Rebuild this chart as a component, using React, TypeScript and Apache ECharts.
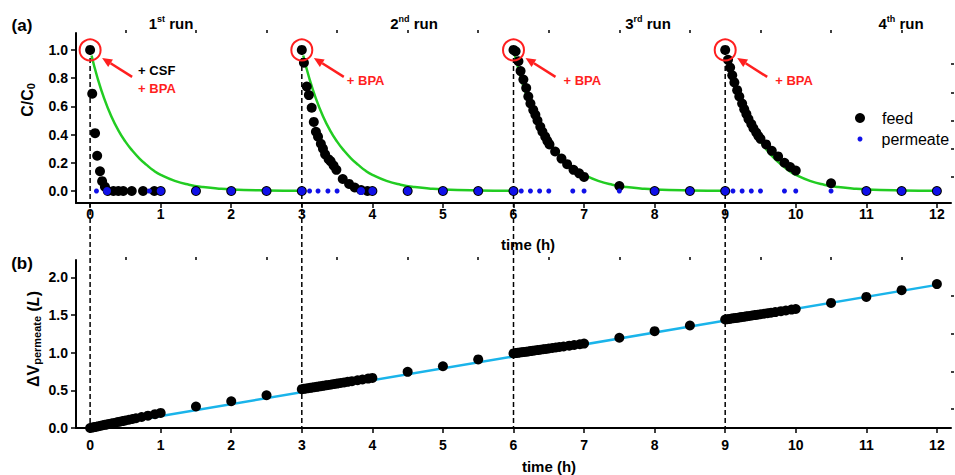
import React, { useEffect, useRef } from "react";
import * as echarts from "echarts";

// ---------- data ----------
const runStarts = [0, 3, 6, 9];
const peakValues = [1.0, 1.0, 1.0, 1.0];
const runNumber = ["1", "2", "3", "4"];
const runSuffix = ["st", "nd", "rd", "th"];

// (a) feed C/C0
const feedTime = [
  0, 0.03, 0.07, 0.1, 0.14, 0.17, 0.21, 0.25, 0.33, 0.4, 0.47, 0.59, 0.75, 0.91, 1.0, 1.5, 2.0, 2.5, 3.0,
  3.0, 3.03, 3.07, 3.1, 3.14, 3.17, 3.2, 3.23, 3.27, 3.3, 3.33, 3.38, 3.41, 3.45, 3.49, 3.58, 3.67, 3.75, 3.84, 3.93, 4.0, 4.5, 5.0, 5.5, 6.0,
  6.0, 6.03, 6.07, 6.1, 6.14, 6.18, 6.21, 6.24, 6.28, 6.31, 6.34, 6.38, 6.41, 6.45, 6.48, 6.51, 6.59, 6.68, 6.76, 6.85, 6.93, 7.0, 7.5, 8.0, 8.5, 9.0,
  9.0, 9.04, 9.07, 9.1, 9.13, 9.17, 9.2, 9.24, 9.27, 9.3, 9.33, 9.37, 9.4, 9.44, 9.47, 9.5, 9.58, 9.66, 9.75, 9.84, 9.92, 10.0, 10.5, 11.0, 11.5, 12.0,
];
const feedValue = [
  1.0, 0.69, 0.41, 0.25, 0.14, 0.07, 0.03, 0, 0, 0, 0, 0, 0, 0, 0, 0, 0, 0, 0,
  1.0, 0.91, 0.74, 0.68, 0.59, 0.49, 0.42, 0.385, 0.335, 0.3, 0.26, 0.225, 0.21, 0.18, 0.15, 0.085, 0.05, 0.025, 0.007, 0, 0, 0, 0, 0, 0,
  1.0, 0.99, 0.92, 0.85, 0.79, 0.73, 0.67, 0.62, 0.575, 0.54, 0.5, 0.455, 0.42, 0.385, 0.355, 0.33, 0.28, 0.23, 0.19, 0.15, 0.125, 0.1, 0.035, 0, 0, 0,
  1.0, 0.93, 0.875, 0.82, 0.77, 0.715, 0.67, 0.62, 0.58, 0.545, 0.51, 0.475, 0.445, 0.415, 0.39, 0.37, 0.33, 0.285, 0.245, 0.2, 0.17, 0.145, 0.055, 0, 0, 0,
];

// (a) permeate C/C0
const permeateTime = [
  0.09, 0.24, 0.84, 1.0, 1.5, 2.0, 2.5, 3.0,
  3.11, 3.23, 3.37, 3.5, 3.84, 4.0, 4.5, 5.0, 5.5, 6.0,
  6.11, 6.24, 6.37, 6.5, 6.84, 7.0, 7.5, 8.0, 8.5, 9.0,
  9.11, 9.24, 9.37, 9.5, 9.84, 10.0, 10.5, 11.0, 11.5, 12.0,
];
const permeateValue = [
  0, 0, 0, 0, 0, 0, 0, 0,
  0, 0, 0, 0, 0, 0, 0, 0, 0, 0,
  0, 0, 0, 0, 0, 0, 0, 0, 0, 0,
  0, 0, 0, 0, 0, 0, 0, 0, 0, 0,
];

// (a) green model curve, read after each BPA addition (time since addition, C/C0)
const fitOffset = [0.02, 0.1, 0.2, 0.3, 0.4, 0.5, 0.6, 0.7, 0.8, 0.9, 1.0, 1.2, 1.4, 1.6, 1.8, 2.0, 2.5, 3.0];
const fitValue = [0.96, 0.81, 0.655, 0.53, 0.43, 0.35, 0.285, 0.23, 0.185, 0.145, 0.115, 0.072, 0.045, 0.028, 0.018, 0.011, 0.004, 0.001];

// (b) cumulative permeate volume (L)
const dvTime = [
  0, 0.03, 0.06, 0.09, 0.12, 0.15, 0.18, 0.21, 0.24, 0.27, 0.3, 0.34, 0.38, 0.42, 0.46, 0.5, 0.55, 0.6, 0.65, 0.73, 0.82, 0.92, 1.0, 1.5, 2.0, 2.5,
  3.0, 3.03, 3.06, 3.09, 3.12, 3.15, 3.18, 3.21, 3.24, 3.27, 3.3, 3.34, 3.38, 3.42, 3.46, 3.5, 3.55, 3.6, 3.65, 3.71, 3.79, 3.86, 3.94, 4.0, 4.5, 5.0, 5.5,
  6.0, 6.03, 6.06, 6.09, 6.12, 6.15, 6.18, 6.21, 6.24, 6.27, 6.3, 6.34, 6.38, 6.42, 6.46, 6.5, 6.55, 6.6, 6.65, 6.71, 6.79, 6.86, 6.94, 7.0, 7.5, 8.0, 8.5,
  9.0, 9.03, 9.06, 9.09, 9.12, 9.15, 9.18, 9.21, 9.24, 9.27, 9.3, 9.34, 9.38, 9.42, 9.46, 9.5, 9.55, 9.6, 9.65, 9.71, 9.79, 9.86, 9.94, 10.0, 10.5, 11.0, 11.5, 12.0,
];
const dvValue = [
  0, 0.006, 0.012, 0.018, 0.024, 0.03, 0.036, 0.042, 0.048, 0.054, 0.06, 0.068, 0.076, 0.084, 0.092, 0.1, 0.11, 0.12, 0.13, 0.146, 0.164, 0.184, 0.2, 0.285, 0.355, 0.435,
  0.515, 0.52, 0.524, 0.528, 0.533, 0.537, 0.542, 0.546, 0.551, 0.555, 0.56, 0.566, 0.572, 0.578, 0.584, 0.59, 0.598, 0.605, 0.613, 0.622, 0.634, 0.644, 0.656, 0.665, 0.745, 0.82, 0.91,
  0.99, 0.994, 0.998, 1.002, 1.006, 1.01, 1.013, 1.017, 1.021, 1.025, 1.029, 1.034, 1.039, 1.045, 1.05, 1.055, 1.062, 1.068, 1.075, 1.082, 1.093, 1.102, 1.112, 1.12, 1.198, 1.285, 1.36,
  1.44, 1.444, 1.448, 1.453, 1.457, 1.461, 1.465, 1.469, 1.474, 1.478, 1.482, 1.488, 1.493, 1.499, 1.504, 1.51, 1.517, 1.524, 1.531, 1.539, 1.551, 1.56, 1.572, 1.58, 1.66, 1.74, 1.83, 1.91,
];
const dvFitTime = [0, 12];
const dvFitValue = [0, 1.9];

// ticks
const xMajor = [0, 1, 2, 3, 4, 5, 6, 7, 8, 9, 10, 11, 12];
const xMinor = [0.5, 1.5, 2.5, 3.5, 4.5, 5.5, 6.5, 7.5, 8.5, 9.5, 10.5, 11.5];
const cMajor = [0, 0.2, 0.4, 0.6, 0.8, 1.0];
const cMinor = [0.1, 0.3, 0.5, 0.7, 0.9];
const vMajor = [0, 0.5, 1.0, 1.5, 2.0];
const vMinor = [0.25, 0.75, 1.25, 1.75];

const F = "'Liberation Sans', Arial, Helvetica, sans-serif";
const RED = "#ff1f1f";

export default function App() {
  const ref = useRef<HTMLDivElement | null>(null);

  useEffect(() => {
    if (!ref.current) return;
    const chart = echarts.init(ref.current, null, { renderer: "svg" });

    const axisLine = { show: true, onZero: false, lineStyle: { color: "#000", width: 2 } };
    const lbl = { fontSize: 14, fontWeight: "bold", color: "#000", fontFamily: F };

    const mainX = (g: number, margin: number) => ({
      gridIndex: g, type: "value", min: -0.2, max: 12.2,
      axisLine,
      axisTick: { show: true, length: 5, lineStyle: { color: "#000", width: 1.5 }, customValues: xMajor },
      axisLabel: { ...lbl, margin, customValues: xMajor, formatter: (v: number) => String(Math.round(v)) },
      splitLine: { show: false },
    });
    const minorX = (g: number) => ({
      gridIndex: g, type: "value", min: -0.2, max: 12.2,
      axisLine: { show: false, onZero: false },
      axisTick: { show: true, length: 3, lineStyle: { color: "#000", width: 1.5 }, customValues: xMinor },
      axisLabel: { show: false },
      splitLine: { show: false },
    });
    const mainY = (g: number, min: number, max: number, ticks: number[]) => ({
      gridIndex: g, type: "value", min, max,
      axisLine,
      axisTick: { show: true, length: 5, lineStyle: { color: "#000", width: 1.5 }, customValues: ticks },
      axisLabel: { ...lbl, margin: 8, customValues: ticks, formatter: (v: number) => v.toFixed(1) },
      splitLine: { show: false },
    });
    const minorY = (g: number, min: number, max: number, ticks: number[]) => ({
      gridIndex: g, type: "value", min, max,
      axisLine: { show: false, onZero: false },
      axisTick: { show: true, length: 3, lineStyle: { color: "#000", width: 1.5 }, customValues: ticks },
      axisLabel: { show: false },
      splitLine: { show: false },
    });

    const fitSeries = runStarts.map((s) => ({
      type: "line", xAxisIndex: 0, yAxisIndex: 0, z: 2,
      data: fitOffset.map((o, i) => [s + o, fitValue[i]]),
      showSymbol: false, symbol: "none", smooth: true,
      lineStyle: { color: "#22cc22", width: 2.5 },
      silent: true,
    }));

    const option: any = {
      animation: false,
      backgroundColor: "#fff",
      textStyle: { fontFamily: F },
      grid: [
        { left: 76, top: 33, width: 875, height: 170, outerBoundsMode: "none" },
        { left: 76, top: 260, width: 875, height: 168, outerBoundsMode: "none" },
      ],
      xAxis: [mainX(0, 4), mainX(1, 10), minorX(0), minorX(1)],
      yAxis: [
        mainY(0, -0.085, 1.12, cMajor),
        mainY(1, 0, 2.23, vMajor),
        minorY(0, -0.085, 1.12, cMinor),
        minorY(1, 0, 2.23, vMinor),
      ],
      legend: [
        {
          data: ["feed"], left: 855, top: 109, padding: 0, orient: "vertical",
          icon: "circle", itemWidth: 10, itemHeight: 10, selectedMode: false,
          textStyle: { fontSize: 16, color: "#000", fontFamily: F, lineHeight: 18, padding: [0, 0, 0, 12] },
        },
        {
          data: ["permeate"], left: 857.5, top: 130, padding: 0, orient: "vertical",
          icon: "circle", itemWidth: 5, itemHeight: 5, selectedMode: false,
          textStyle: { fontSize: 16, color: "#000", fontFamily: F, lineHeight: 18, padding: [0, 0, 0, 14] },
        },
      ],
      series: [
        ...fitSeries,
        {
          name: "feed", type: "scatter", xAxisIndex: 0, yAxisIndex: 0, z: 3,
          data: feedTime.map((t, i) => [t, feedValue[i]]),
          symbol: "circle", symbolSize: 10, itemStyle: { color: "#000", opacity: 1 },
        },
        {
          name: "permeate", type: "scatter", xAxisIndex: 0, yAxisIndex: 0, z: 4,
          data: permeateTime.map((t, i) => [t, permeateValue[i]]),
          symbol: "circle",
          symbolSize: (val: number[]) =>
            feedTime.some((t, i) => Math.abs(t - val[0]) < 0.03 && feedValue[i] < 0.02) ? 8 : 5,
          itemStyle: { color: "#1010e8", opacity: 1 },
        },
        {
          name: "BPA addition", type: "scatter", xAxisIndex: 0, yAxisIndex: 0, z: 5,
          data: runStarts.map((t, i) => [t, peakValues[i]]),
          symbol: "circle", symbolSize: 21, silent: true,
          itemStyle: { color: "rgba(0,0,0,0)", borderColor: RED, borderWidth: 2, opacity: 1 },
        },
        {
          name: "fit V", type: "line", xAxisIndex: 1, yAxisIndex: 1, z: 2,
          data: dvFitTime.map((t, i) => [t, dvFitValue[i]]),
          showSymbol: false, symbol: "none",
          lineStyle: { color: "#1ab4ea", width: 2.5 }, silent: true,
        },
        {
          name: "dV", type: "scatter", xAxisIndex: 1, yAxisIndex: 1, z: 3,
          data: dvTime.map((t, i) => [t, dvValue[i]]),
          symbol: "circle", symbolSize: 10, itemStyle: { color: "#000", opacity: 1 },
        },
      ],
    };

    chart.setOption(option);

    const P = (g: number, t: number, v: number) =>
      chart.convertToPixel({ xAxisIndex: g, yAxisIndex: g }, [t, v]) as number[];

    const els: any[] = [];
    const boldTxt = (x: number, y: number, text: string, size: number, fill = "#000", align = "left") => ({
      type: "text", x, y, z: 50,
      style: {
        text, fill, fontSize: size, fontWeight: "bold", fontFamily: F,
        align, textAlign: align, verticalAlign: "middle", textVerticalAlign: "middle",
      },
    });

    runStarts.forEach((t, r) => {
      const top = P(0, t, peakValues[r]);
      const bot = P(1, t, 0);
      els.push({
        type: "line", z: 1,
        shape: { x1: top[0], y1: top[1], x2: bot[0], y2: bot[1] },
        style: { stroke: "#000", lineWidth: 1.5, lineDash: [5, 3] },
      });
      const tail = [top[0] + 42, top[1] + 27];
      const head = [top[0] + 12, top[1] + 8];
      const dx = head[0] - tail[0], dy = head[1] - tail[1];
      const len = Math.hypot(dx, dy);
      const ux = dx / len, uy = dy / len;
      const hl = 10, hw = 4.5;
      const bx = head[0] - ux * hl, by = head[1] - uy * hl;
      const nx = -uy, ny = ux;
      els.push({
        type: "line", z: 40,
        shape: { x1: tail[0], y1: tail[1], x2: bx, y2: by },
        style: { stroke: RED, lineWidth: 2.5 },
      });
      els.push({
        type: "polygon", z: 40,
        shape: { points: [[head[0], head[1]], [bx + nx * hw, by + ny * hw], [bx - nx * hw, by - ny * hw]] },
        style: { fill: RED },
      });
      if (r === 0) {
        els.push(boldTxt(top[0] + 48, top[1] + 21, "+ CSF", 13, "#000"));
        els.push(boldTxt(top[0] + 48, top[1] + 39, "+ BPA", 13, RED));
      } else {
        const dxl = [48, 45, 50, 50][r];
        els.push(boldTxt(top[0] + dxl, top[1] + 31, "+ BPA", 13, RED));
      }
    });

    const titleX = [171, 414, 648, 901];
    runNumber.forEach((n, r) => {
      els.push({
        type: "text", x: titleX[r], y: 23, z: 50,
        style: {
          text: `{n|${n}}{s|${runSuffix[r]}}{n| run}`,
          align: "center", textAlign: "center", verticalAlign: "middle", textVerticalAlign: "middle",
          fill: "#000",
          rich: {
            n: { fontSize: 15, fontWeight: "bold", fontFamily: F, fill: "#000", lineHeight: 18 },
            s: { fontSize: 9, fontWeight: "bold", fontFamily: F, fill: "#000", lineHeight: 10, verticalAlign: "top" },
          },
        },
      });
    });

    els.push(boldTxt(22, 25, "(a)", 17, "#000", "center"));
    els.push(boldTxt(22, 263, "(b)", 17, "#000", "center"));
    els.push(boldTxt(528, 244, "time (h)", 15, "#000", "center"));
    els.push(boldTxt(549, 466, "time (h)", 15, "#000", "center"));

    els.push({
      type: "text", x: 27, y: 100, rotation: Math.PI / 2, z: 50,
      style: {
        text: "{n|C/C}{s|0}",
        align: "center", textAlign: "center", verticalAlign: "middle", textVerticalAlign: "middle",
        fill: "#000",
        rich: {
          n: { fontSize: 16, fontWeight: "bold", fontFamily: F, fill: "#000", lineHeight: 18 },
          s: { fontSize: 11, fontWeight: "bold", fontFamily: F, fill: "#000", lineHeight: 11, verticalAlign: "bottom" },
        },
      },
    });
    els.push({
      type: "text", x: 33, y: 339, rotation: Math.PI / 2, z: 50,
      style: {
        text: "{n|ΔV}{s|permeate}{n| (}{i|L}{n|)}",
        align: "center", textAlign: "center", verticalAlign: "middle", textVerticalAlign: "middle",
        fill: "#000",
        rich: {
          n: { fontSize: 16, fontWeight: "bold", fontFamily: F, fill: "#000", lineHeight: 18 },
          i: { fontSize: 16, fontWeight: "bold", fontStyle: "italic", fontFamily: F, fill: "#000", lineHeight: 18 },
          s: { fontSize: 11, fontWeight: "bold", fontFamily: F, fill: "#000", lineHeight: 11, verticalAlign: "bottom" },
        },
      },
    });

    chart.setOption({ graphic: { elements: els } });

    return () => chart.dispose();
  }, []);

  return (
    <div
      ref={ref}
      style={{ position: "fixed", left: 0, top: 0, width: 955, height: 475, background: "#fff" }}
    />
  );
}
